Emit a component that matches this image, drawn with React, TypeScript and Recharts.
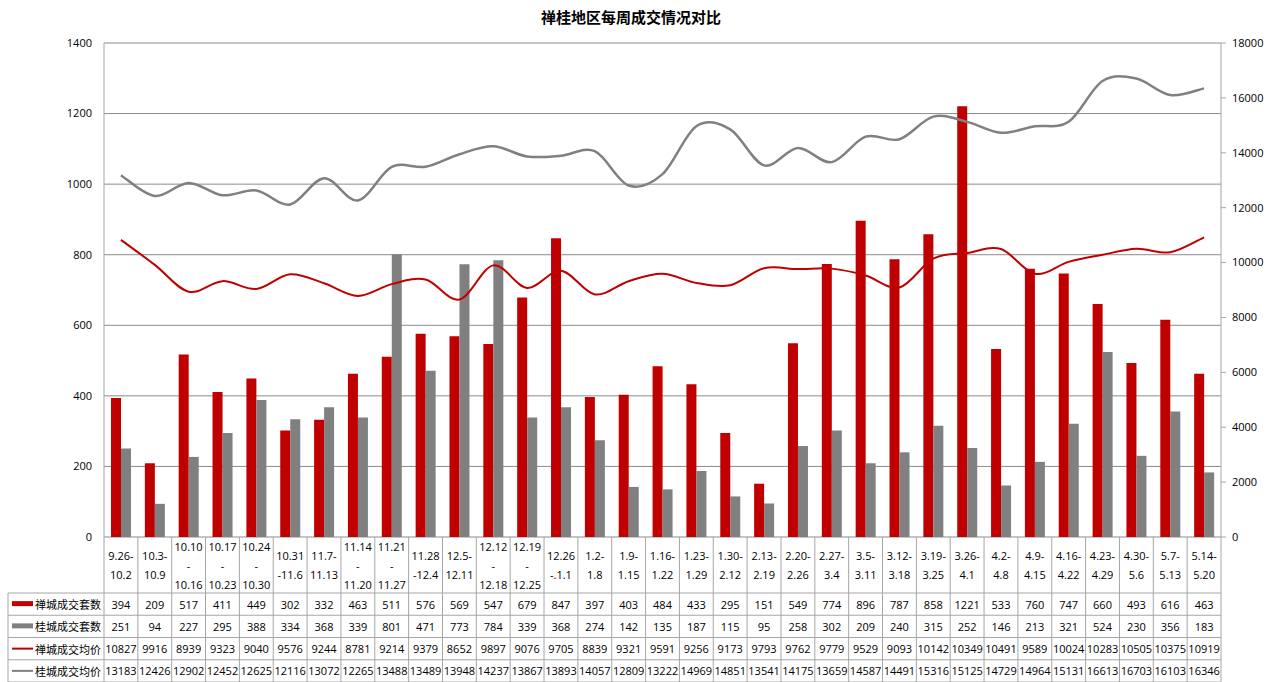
import React from 'react';
import { ComposedChart, Bar, Line, XAxis, YAxis, CartesianGrid } from 'recharts';

const categories = [
  '9.26-\n10.2', '10.3-\n10.9', '10.10\n-\n10.16', '10.17\n-\n10.23', '10.24\n-\n10.30',
  '10.31\n-11.6', '11.7-\n11.13', '11.14\n-\n11.20', '11.21\n-\n11.27', '11.28\n-12.4',
  '12.5-\n12.11', '12.12\n-\n12.18', '12.19\n-\n12.25', '12.26\n-.1.1', '1.2-\n1.8',
  '1.9-\n1.15', '1.16-\n1.22', '1.23-\n1.29', '1.30-\n2.12', '2.13-\n2.19', '2.20-\n2.26',
  '2.27-\n3.4', '3.5-\n3.11', '3.12-\n3.18', '3.19-\n3.25', '3.26-\n4.1', '4.2-\n4.8',
  '4.9-\n4.15', '4.16-\n4.22', '4.23-\n4.29', '4.30-\n5.6', '5.7-\n5.13', '5.14-\n5.20',
];
const chanchengCount = [394, 209, 517, 411, 449, 302, 332, 463, 511, 576, 569, 547, 679, 847, 397, 403, 484, 433, 295, 151, 549, 774, 896, 787, 858, 1221, 533, 760, 747, 660, 493, 616, 463];
const guichengCount = [251, 94, 227, 295, 388, 334, 368, 339, 801, 471, 773, 784, 339, 368, 274, 142, 135, 187, 115, 95, 258, 302, 209, 240, 315, 252, 146, 213, 321, 524, 230, 356, 183];
const chanchengPrice = [10827, 9916, 8939, 9323, 9040, 9576, 9244, 8781, 9214, 9379, 8652, 9897, 9076, 9705, 8839, 9321, 9591, 9256, 9173, 9793, 9762, 9779, 9529, 9093, 10142, 10349, 10491, 9589, 10024, 10283, 10505, 10375, 10919];
const guichengPrice = [13183, 12426, 12902, 12452, 12625, 12116, 13072, 12265, 13488, 13489, 13948, 14237, 13867, 13893, 14057, 12809, 13222, 14969, 14851, 13541, 14175, 13659, 14587, 14491, 15316, 15125, 14729, 14964, 15131, 16613, 16703, 16103, 16346];

const leftTicks = [0, 200, 400, 600, 800, 1000, 1200, 1400];
const rightTicks = [0, 2000, 4000, 6000, 8000, 10000, 12000, 14000, 16000, 18000];

const title = '禅桂地区每周成交情况对比';
const seriesNames = ['禅城成交套数', '桂城成交套数', '禅城成交均价', '桂城成交均价'];

const RED = '#C00000';
const GRAY = '#808080';
const BORDER = '#a6a6a6';
const FONT = '"Open Sans", "Noto Sans CJK SC", sans-serif';

const W = 1276;
const H = 682;
const M = { top: 43, right: 0, bottom: 0, left: 44 };
const LEFT_W = 60;
const RIGHT_W = 55;
const XAXIS_H = 145;
const PLOT_LEFT = M.left + LEFT_W;
const PLOT_RIGHT = W - M.right - RIGHT_W;
const PLOT_BOTTOM = H - M.bottom - XAXIS_H;
const BW = (PLOT_RIGHT - PLOT_LEFT) / categories.length;
const HEADER_H = 56;
const ROW_H = (XAXIS_H - HEADER_H) / 4;
const LEGEND_LEFT = 8;

const data = categories.map((c, i) => ({
  name: c,
  cc: chanchengCount[i],
  gc: guichengCount[i],
  cp: chanchengPrice[i],
  gp: guichengPrice[i],
}));

const rowValues = [chanchengCount, guichengCount, chanchengPrice, guichengPrice];

// Excel-like smoothed line (Catmull-Rom Bezier)
const excelCurve = (context: any) => {
  let pts: [number, number][] = [];
  return {
    areaStart() {},
    areaEnd() {},
    lineStart() {
      pts = [];
    },
    point(x: number, y: number) {
      pts.push([+x, +y]);
    },
    lineEnd() {
      const n = pts.length;
      if (!n) return;
      context.moveTo(pts[0][0], pts[0][1]);
      for (let i = 0; i < n - 1; i++) {
        const p0 = pts[Math.max(0, i - 1)];
        const p1 = pts[i];
        const p2 = pts[i + 1];
        const p3 = pts[Math.min(n - 1, i + 2)];
        const c1x = p1[0] + (p2[0] - p0[0]) / 6;
        const c1y = p1[1] + (p2[1] - p0[1]) / 6;
        const c2x = p2[0] - (p3[0] - p1[0]) / 6;
        const c2y = p2[1] - (p3[1] - p1[1]) / 6;
        context.bezierCurveTo(c1x, c1y, c2x, c2y, p2[0], p2[1]);
      }
    },
  };
};

const TableTick = (props: any) => {
  const { x, payload } = props;
  const idx = payload.index;
  const top = PLOT_BOTTOM;
  const left = x - BW / 2;
  const right = x + BW / 2;
  const lines = String(payload.value).split('\n');
  const lh = 19;
  const labelCenter = top + HEADER_H / 2;
  const firstY = labelCenter - ((lines.length - 1) * lh) / 2;
  const rowTops = [0, 1, 2, 3, 4].map((r) => top + HEADER_H + r * ROW_H);
  const els: any[] = [];
  els.push(<line key="vl" x1={left} x2={left} y1={top} y2={H} stroke={BORDER} strokeWidth={1} />);
  if (idx === categories.length - 1) {
    els.push(<line key="vr" x1={right} x2={right} y1={top} y2={H} stroke={BORDER} strokeWidth={1} />);
  }
  rowTops.forEach((ry, r) =>
    els.push(<line key={'h' + r} x1={left} x2={right} y1={ry} y2={ry} stroke={BORDER} strokeWidth={1} />)
  );
  lines.forEach((ln, k) =>
    els.push(
      <text key={'l' + k} x={x} y={firstY + k * lh} textAnchor="middle" dominantBaseline="central" fontSize={11} fontFamily={FONT} fill="#000">
        {ln}
      </text>
    )
  );
  rowValues.forEach((arr, r) =>
    els.push(
      <text key={'v' + r} x={x} y={rowTops[r] + ROW_H / 2} textAnchor="middle" dominantBaseline="central" fontSize={11} fontFamily={FONT} fill="#000">
        {arr[idx]}
      </text>
    )
  );
  if (idx === 0) {
    // legend column of the data table
    const lx = LEGEND_LEFT;
    els.push(<line key="lgl" x1={lx} x2={lx} y1={rowTops[0]} y2={H} stroke={BORDER} strokeWidth={1} />);
    rowTops.forEach((ry, r) =>
      els.push(<line key={'lgh' + r} x1={lx} x2={left} y1={ry} y2={ry} stroke={BORDER} strokeWidth={1} />)
    );
    seriesNames.forEach((nm, r) => {
      const cy = rowTops[r] + ROW_H / 2;
      const color = r % 2 === 0 ? RED : GRAY;
      if (r < 2) {
        els.push(<rect key={'sw' + r} x={lx + 4} y={cy - 3} width={21} height={5} fill={color} />);
      } else {
        els.push(<line key={'sw' + r} x1={lx + 4} x2={lx + 25} y1={cy} y2={cy} stroke={color} strokeWidth={2} />);
      }
      els.push(
        <text key={'nm' + r} x={lx + 27} y={cy} dominantBaseline="central" fontSize={11} fontFamily='"Noto Sans CJK SC", sans-serif' fill="#000">
          {nm}
        </text>
      );
    });
  }
  return <g>{els}</g>;
};

export default function App() {
  return (
    <div style={{ position: 'absolute', left: 0, top: 0, width: W, height: H, background: '#fff' }}>
      <div
        style={{
          position: 'absolute',
          left: 0,
          top: 7,
          width: 1262,
          textAlign: 'center',
          fontFamily: '"Noto Sans CJK SC", sans-serif',
          fontWeight: 'bold',
          fontSize: 15,
          lineHeight: '20px',
          color: '#000',
        }}
      >
        {title}
      </div>
      <ComposedChart width={W} height={H} data={data} margin={M} barGap={0} barSize={10}>
        <CartesianGrid horizontal vertical={false} stroke="#8c8c8c" yAxisId="left" />
        <XAxis
          dataKey="name"
          height={XAXIS_H}
          axisLine={false}
          tickLine={false}
          tickSize={0}
          tickMargin={0}
          interval={0}
          tick={<TableTick />}
        />
        <YAxis
          yAxisId="left"
          orientation="left"
          width={LEFT_W}
          domain={[0, 1400]}
          ticks={leftTicks}
          interval={0}
          axisLine={{ stroke: '#a6a6a6' }}
          tickLine={false}
          tickSize={0}
          tickMargin={12}
          tick={{ fontSize: 11, fontFamily: FONT, fill: '#000' }}
        />
        <YAxis
          yAxisId="right"
          orientation="right"
          width={RIGHT_W}
          domain={[0, 18000]}
          ticks={rightTicks}
          interval={0}
          axisLine={{ stroke: '#a6a6a6' }}
          tickLine={{ stroke: '#a6a6a6' }}
          tickSize={5}
          tickMargin={6}
          tick={{ fontSize: 11, fontFamily: FONT, fill: '#000' }}
        />
        <Line yAxisId="right" dataKey="cp" type={excelCurve as any} stroke={RED} strokeWidth={2} dot={false} activeDot={false} isAnimationActive={false} />
        <Line yAxisId="right" dataKey="gp" type={excelCurve as any} stroke={GRAY} strokeWidth={2.5} dot={false} activeDot={false} isAnimationActive={false} />
        <Bar yAxisId="left" dataKey="cc" fill={RED} isAnimationActive={false} />
        <Bar yAxisId="left" dataKey="gc" fill={GRAY} isAnimationActive={false} />
      </ComposedChart>
    </div>
  );
}
